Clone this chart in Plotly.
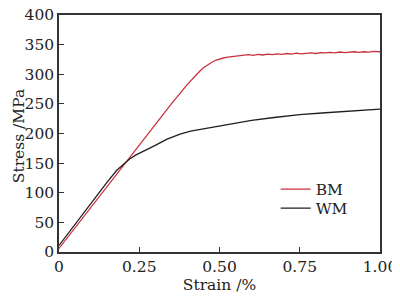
import plotly.graph_objects as go

# Base metal (BM)
bm_strain = [0.00, 0.05, 0.10, 0.15, 0.20, 0.25, 0.30, 0.35, 0.40, 0.42, 0.43, 0.44, 0.45, 0.46,
             0.47, 0.48, 0.49, 0.50, 0.51, 0.52, 0.53, 0.545, 0.56, 0.575, 0.59, 0.605, 0.62,
             0.635, 0.65, 0.665, 0.68, 0.695, 0.71, 0.725, 0.74, 0.755, 0.77, 0.785, 0.80,
             0.815, 0.83, 0.845, 0.86, 0.875, 0.89, 0.905, 0.92, 0.935, 0.95, 0.965, 0.98, 1.00]
bm_stress = [6, 41, 76, 111, 146, 180, 215, 250, 283, 295, 301, 306, 311, 315,
             318.5, 321.5, 324, 326, 327, 328.5, 329, 330.5, 331, 331.5, 333, 332, 333.5,
             332.5, 334, 333, 334.5, 333.5, 335, 334, 335.5, 334.5, 335.5, 336, 335,
             336.5, 336, 337, 336, 337.5, 336.5, 337, 338, 337, 338, 337.5, 338.5, 338]

# Weld metal (WM)
wm_strain = [0.00, 0.05, 0.10, 0.15, 0.18, 0.20, 0.22, 0.24, 0.26, 0.28, 0.30, 0.335, 0.377,
             0.41, 0.47, 0.53, 0.60, 0.67, 0.75, 0.83, 0.91, 1.00]
wm_stress = [11, 47, 83, 118, 138, 148, 157, 164, 169, 174, 180, 190, 199,
             204, 210, 216, 222, 227, 232, 235, 238, 241]

x_ticks = [0, 0.25, 0.5, 0.75, 1.0]
x_tick_labels = ["0", "0.25", "0.50", "0.75", "1.00"]
y_ticks = [0, 50, 100, 150, 200, 250, 300, 350, 400]

font = "DejaVu Serif"
fs = 15.5

fig = go.Figure()
fig.add_trace(go.Scatter(x=bm_strain, y=bm_stress, mode="lines", name="BM",
                         legend="legend",
                         line=dict(color="#c8323c", width=1.3)))
fig.add_trace(go.Scatter(x=wm_strain, y=wm_stress, mode="lines", name="WM",
                         legend="legend2",
                         line=dict(color="#1e1e1e", width=1.3)))

leg_common = dict(xanchor="left", yanchor="top", bgcolor="rgba(0,0,0,0)",
                  borderwidth=0, font=dict(family=font, size=fs, color="#222"))

# page body has an 8px margin, so the figure is sized/offset to compensate
fig.update_layout(
    width=392, height=288,
    margin=dict(l=51, r=20, t=7, b=44),
    paper_bgcolor="white", plot_bgcolor="white",
    font=dict(family=font, size=fs, color="#222"),
    showlegend=True,
    legend=dict(x=0.675, y=0.335, **leg_common),
    legend2=dict(x=0.675, y=0.255, **leg_common),
    xaxis=dict(range=[0, 1.0], tickvals=x_ticks, ticktext=x_tick_labels,
               ticks="inside", ticklen=5, tickwidth=1.2, tickcolor="#333",
               showline=True, linecolor="#333", linewidth=1.5, mirror=True,
               showgrid=False, zeroline=False, automargin=False,
               ticklabeloverflow="allow",
               title=dict(text="Strain /%", standoff=2, font=dict(size=fs))),
    yaxis=dict(range=[0, 400], tickvals=y_ticks,
               ticks="inside", ticklen=5, tickwidth=1.2, tickcolor="#333",
               showline=True, linecolor="#333", linewidth=1.5, mirror=True,
               showgrid=False, zeroline=False, automargin=False,
               ticklabeloverflow="allow"),
    annotations=[dict(text="Stress /MPa", textangle=-90, xref="paper", yref="paper",
                      x=-0.158, y=0.49, xanchor="left", yanchor="middle",
                      showarrow=False, font=dict(family=font, size=fs, color="#222"))],
)

fig.write_html("out.html")
